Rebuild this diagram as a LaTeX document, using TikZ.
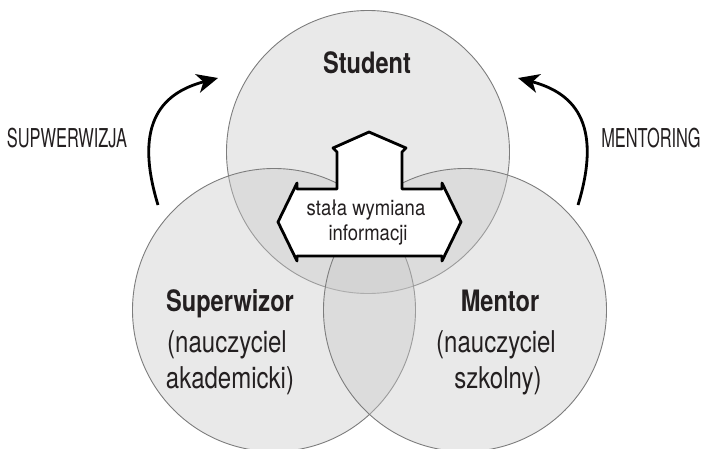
\documentclass[tikz,border=0pt]{standalone}
\usepackage{fontspec}
\setmainfont{TeX Gyre Heros}
\newfontfamily\labelfont{TeX Gyre Heros}[FakeStretch=0.8]
\newfontfamily\capsfont{TeX Gyre Heros}[FakeStretch=0.63]
\newfontfamily\infofont{TeX Gyre Heros}[FakeStretch=0.86]
\usetikzlibrary{arrows.meta}
\definecolor{ringfill}{RGB}{200,200,200}
\definecolor{ringline}{RGB}{125,125,125}
\definecolor{inkgray}{RGB}{35,31,32}

\begin{document}
\begin{tikzpicture}
	[x=1pt,y=-1pt,
	ring/.style={draw=ringline,line width=0.9pt,fill=ringfill,fill opacity=0.4},
	title/.style={font=\labelfont\bfseries\fontsize{29.5}{34}\selectfont},
	role/.style={font=\labelfont\fontsize{30}{34}\selectfont},
	info/.style={font=\infofont\fontsize{21.5}{26}\selectfont},
	side/.style={font=\capsfont\fontsize{26}{30}\selectfont},
	every node/.style={inner sep=0pt,anchor=base,text=inkgray},
	loop/.style={line width=2.8pt,-{Stealth[length=21pt,width=19pt,inset=6pt]}},
	infobox/.style={draw=black,line width=2.8pt,line join=round,fill=white}]
	\useasboundingbox (0,0) rectangle (705,448);
	
	% three circles
	\coordinate (cs) at (368,152);
	\coordinate (cl) at (274,310);
	\coordinate (cr) at (465,310);
	\foreach \c in {cs,cl,cr}
	\draw[ring] (\c) circle [radius=141.5pt];
	
	% arrow box in the middle
	\draw[infobox] (369,132) -- (333,148) -- (337,152) -- (337,189) -- (297,189) -- (297,183)
	-- (278,222) -- (297,261) -- (297,256) -- (442,256) -- (442,261) -- (461,222)
	-- (442,183) -- (442,189) -- (402,189) -- (402,152) -- (406,148) -- cycle;
	\node[info] (info1) at (366,215) {stała wymiana};
	\node[info] (info2) at (368,240) {informacji};
	
	\node[title] (student) at (367,73) {Student};
	\node[title] (superwizor) at (230,311) {Superwizor};
	\node[role] (sup1) at (227,352) {(nauczyciel};
	\node[role] (sup2) at (230,388) {akademicki)};
	\node[title] (mentor) at (500,311) {Mentor};
	\node[role] (men1) at (496,352) {(nauczyciel};
	\node[role] (men2) at (498,388) {szkolny)};
	
	% side arrows
	\node[side] (supw) at (67,147) {SUPWERWIZJA};
	\node[side] (ment) at (651,147) {MENTORING};
	\coordinate (supfrom) at (158,205);
	\coordinate (supto) at (218,78);
	\coordinate (menfrom) at (578,205);
	\coordinate (mento) at (518,78);
	\draw[loop] (supfrom) .. controls (132,120) and (165,92) .. (supto);
	\draw[loop] (menfrom) .. controls (604,120) and (571,92) .. (mento);
\end{tikzpicture}
\end{document}
